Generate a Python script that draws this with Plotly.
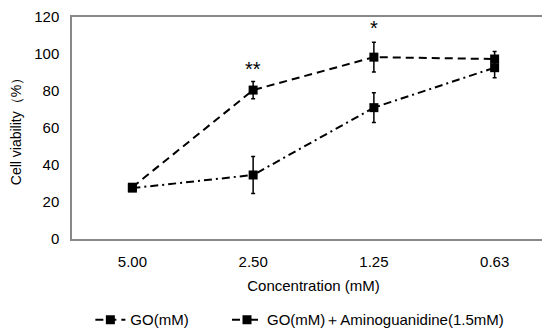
import plotly.graph_objects as go

categories = ["5.00", "2.50", "1.25", "0.63"]
go_values = [28, 80.5, 98.3, 97.3]
go_errors = [1.5, 4.7, 8, 4]
ag_values = [27.5, 34.6, 71, 92.6]
ag_errors = [1.5, 10, 8, 5.5]
sig_labels = ["", "**", "*", ""]
sig_y = [None, 92, 114, None]

font = "Liberation Sans, Arial, sans-serif"

fig = go.Figure()
fig.add_trace(go.Scatter(
    x=categories, y=go_values, name="GO(mM)" + "\u00a0" * 8,
    mode="lines+markers",
    line=dict(color="black", dash="8px,5px", width=2),
    marker=dict(symbol="square", size=9, color="black"),
    error_y=dict(type="data", array=go_errors, color="black", thickness=1.5, width=2),
))
fig.add_trace(go.Scatter(
    x=categories, y=ag_values, name="GO(mM)＋Aminoguanidine(1.5mM)",
    mode="lines+markers",
    line=dict(color="black", dash="8px,4px,2px,4px", width=2),
    marker=dict(symbol="square", size=9, color="black"),
    error_y=dict(type="data", array=ag_errors, color="black", thickness=1.5, width=2),
))
for i, (t, yy) in enumerate(zip(sig_labels, sig_y)):
    if t:
        fig.add_annotation(x=i, y=yy, xref="x", yref="y", text=t, showarrow=False,
                           font=dict(size=20, color="black", family=font))

fig.update_layout(
    width=550, height=331,
    margin=dict(l=64, r=3, t=9, b=91),
    paper_bgcolor="white", plot_bgcolor="white",
    font=dict(family=font, size=15, color="black"),
    showlegend=True,
    legend=dict(orientation="h", x=0.038, xanchor="left", y=-0.29, yanchor="top",
                font=dict(size=15), itemwidth=30),
)
fig.update_xaxes(
    type="category", range=[-0.5, 3.5], automargin=False,
    showline=True, linecolor="#888888", linewidth=1.5, mirror=True,
    showgrid=False, ticks="", ticklabelstandoff=8,
    tickfont=dict(size=15),
    title=dict(text="Concentration (mM)", standoff=12, font=dict(size=15)),
)
fig.update_yaxes(
    range=[0, 120], dtick=20, automargin=False,
    showline=True, linecolor="#888888", linewidth=1.5, mirror=True,
    showgrid=False, ticks="", zeroline=False, ticklabelstandoff=8,
    tickfont=dict(size=15),
    title=dict(text="Cell viability（%）", standoff=10, font=dict(size=14)),
)

fig.write_html("out.html")
